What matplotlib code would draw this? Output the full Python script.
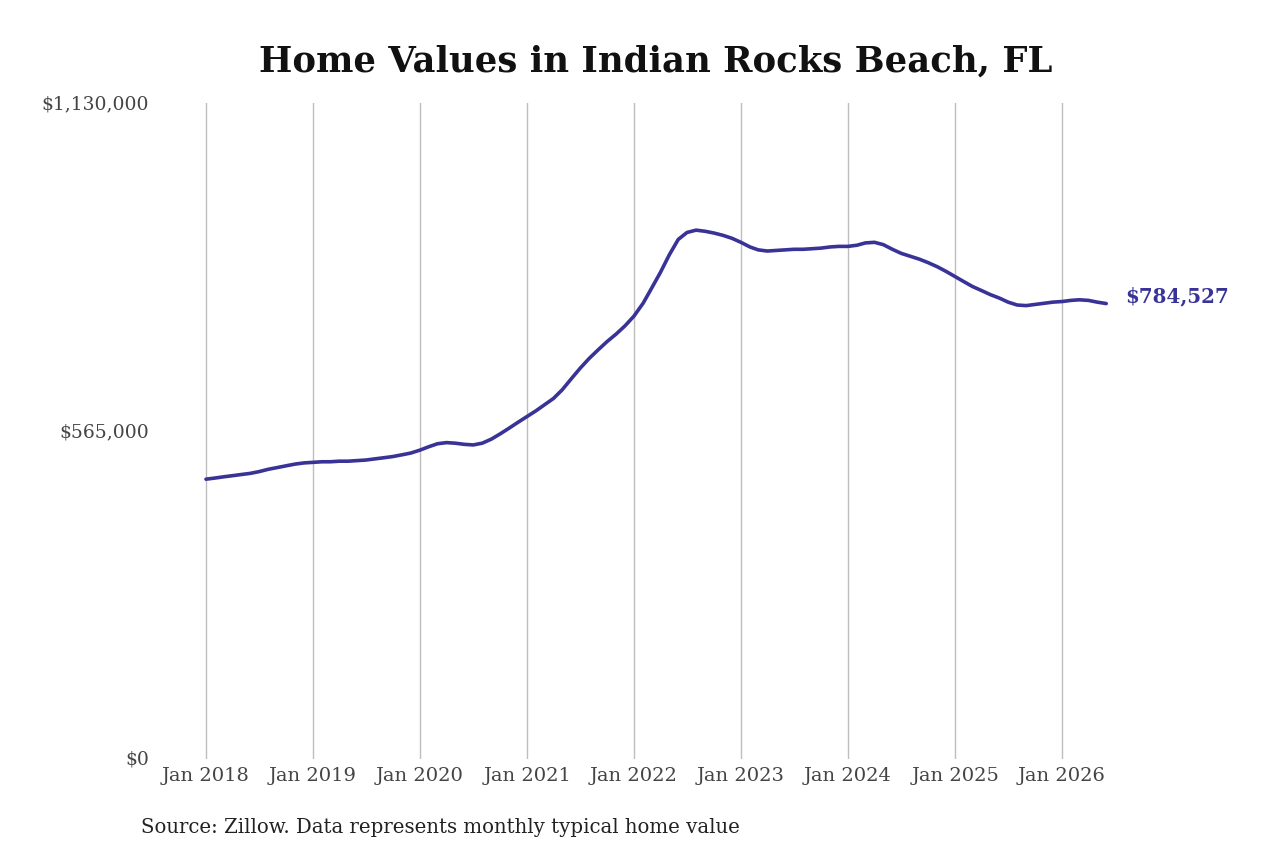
import numpy as np
import pandas as pd
import matplotlib
matplotlib.use("Agg")
import matplotlib.pyplot as plt
import matplotlib.dates as mdates
from matplotlib.ticker import FixedLocator, FuncFormatter

# monthly typical home value, Jan 2018 .. Jun 2026 (thousands of $)
values_k = [
    482, 484, 486, 488, 490, 492, 495, 499, 502, 505, 508, 510,   # 2018
    511, 512, 512, 513, 513, 514, 515, 517, 519, 521, 524, 527,   # 2019
    532, 538, 543, 545, 544, 542, 541, 544, 551, 560, 570, 580,   # 2020
    590, 600, 610, 621, 636, 655, 673, 690, 705, 719, 732, 746,   # 2021
    763, 785, 810, 838, 868, 895, 907, 911, 909, 906, 902, 897,   # 2022
    890, 882, 877, 875, 876, 877, 878, 878, 879, 880, 882, 883,   # 2023
    883, 885, 889, 890, 886, 878, 871, 866, 861, 855, 848, 840,   # 2024
    831, 822, 814, 807, 800, 794, 787, 782, 781, 783, 785, 787,   # 2025
    788, 790, 791, 790, 787, 784.527,                             # 2026
]
dates = pd.date_range("2018-01-01", periods=len(values_k), freq="MS")
values = np.array(values_k) * 1000

y_ticks = [0, 565000, 1130000]
x_tick_years = list(range(2018, 2027))
title = "Home Values in Indian Rocks Beach, FL"
source = "Source: Zillow. Data represents monthly typical home value"
line_color = "#3a3397"

plt.rcParams["font.family"] = ["DejaVu Serif"]

fig = plt.figure(figsize=(12.8, 8.53), dpi=100)
W, H = 1280, 853
# axes in pixel coordinates
left, right, top, bottom = 190, 1120, 104, 760
ax = fig.add_axes([left / W, 1 - bottom / H, (right - left) / W, (bottom - top) / H])

ax.plot(dates, values, color=line_color, lw=2.6, solid_capstyle="round")

# x scale: Jan 2018 -> 206 px, Jan 2026 -> 1062 px
d0 = mdates.date2num(pd.Timestamp("2018-01-01"))
d1 = mdates.date2num(pd.Timestamp("2026-01-01"))
ppd = (1062 - 206) / (d1 - d0)
ax.set_xlim(d0 - (206 - left) / ppd, d1 + (right - 1062) / ppd)
ax.set_ylim(0, 1130000)

xt = [mdates.date2num(pd.Timestamp(f"{y}-01-01")) for y in x_tick_years]
ax.xaxis.set_major_locator(FixedLocator(xt))
ax.set_xticklabels([f"Jan {y}" for y in x_tick_years])
ax.yaxis.set_major_locator(FixedLocator(y_ticks))
ax.yaxis.set_major_formatter(FuncFormatter(lambda v, p: f"${v:,.0f}"))

ax.grid(axis="x", color="#bdbdbd", lw=1)
ax.grid(axis="y", visible=False)
for s in ax.spines.values():
    s.set_visible(False)
ax.tick_params(axis="both", length=0, labelcolor="#444444")
ax.tick_params(axis="x", pad=5, labelsize=14)
ax.tick_params(axis="y", pad=29.5, labelsize=13.5)
for lab in ax.get_yticklabels():
    lab.set_verticalalignment("center")

ax.annotate(f"${values[-1]:,.0f}", xy=(dates[-1], values[-1]),
            xytext=(14, 6), textcoords="offset points",
            color=line_color, fontsize=14.3, fontweight="bold",
            va="center", ha="left", annotation_clip=False)

fig.text(656 / W, 1 - 62 / H, title, ha="center", va="center",
         fontsize=25.5, fontweight="bold", color="#111111")
fig.text(141 / W, 1 - 828 / H, source, ha="left", va="center",
         fontsize=14.2, color="#222222")

fig.savefig("out.png", dpi=100, facecolor="white")
